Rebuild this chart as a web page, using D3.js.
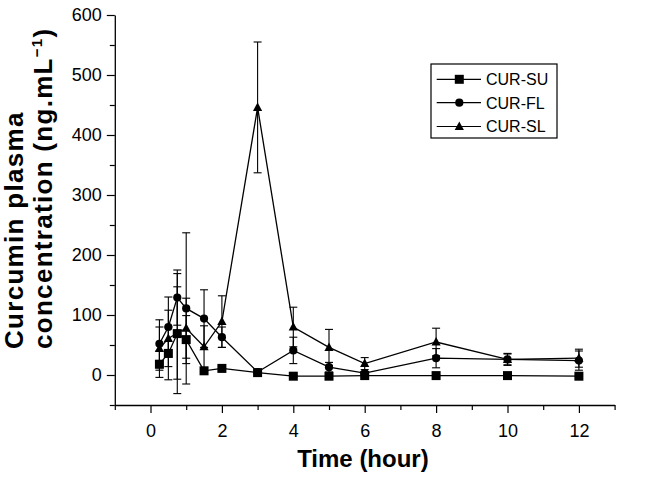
<!DOCTYPE html>
<html><head><meta charset="utf-8">
<script src="https://cdn.jsdelivr.net/npm/d3@7"></script>
<style>
html,body{margin:0;padding:0;background:#fff;}
svg{display:block;font-family:"Liberation Sans",Arial,sans-serif;}
</style></head>
<body><svg id="chart" width="655" height="480"></svg>
<script>
const time = [0.25, 0.5, 0.75, 1, 1.5, 2, 3, 4, 5, 6, 8, 10, 12];
const suValues = [18, 36, 69, 59, 7, 11, 4, -2, -2, -1, -1, -1, -2];
const suSD     = [22, 44, 100, 40, 3, 3, 2, 2, 2, 2, 2, 2, 2];
const flValues = [52, 80, 129, 111, 94, 63, 5, 41, 13, 3, 28, 26, 24];
const flSD     = [40, 50, 46, 126, 48, 17, 3, 22, 8, 2, 16, 10, 16];
const slValues = [44, 61, 70, 78, 47, 89, 446, 80, 46, 19, 55, 26, 28];
const slSD     = [36, 47, 77, 50, 35, 43, 109, 33, 30, 10, 23, 9, 15];
const seriesNames = ["CUR-SU", "CUR-FL", "CUR-SL"];
const xMajorTicks = [0, 2, 4, 6, 8, 10, 12];
const xMinorTicks = [-1, 1, 3, 5, 7, 9, 11, 13];
const yMajorTicks = [0, 100, 200, 300, 400, 500, 600];
const yMinorTicks = [-50, 50, 150, 250, 350, 450, 550];

const svg = d3.select("#chart");
const x = d3.scaleLinear().domain([-1, 13]).range([114.8, 614.6]);
const y = d3.scaleLinear().domain([-50, 600]).range([405, 15]);

const series = [
  {name: seriesNames[0], v: suValues, sd: suSD, shape: "square"},
  {name: seriesNames[1], v: flValues, sd: flSD, shape: "circle"},
  {name: seriesNames[2], v: slValues, sd: slSD, shape: "triangle"}
];

function marker(g, shape, cx, cy) {
  if (shape === "square") {
    g.append("rect").attr("x", cx - 4.5).attr("y", cy - 4.5).attr("width", 9).attr("height", 9).attr("fill", "#000");
  } else if (shape === "circle") {
    g.append("circle").attr("cx", cx).attr("cy", cy).attr("r", 4.1).attr("fill", "#000");
  } else {
    g.append("path").attr("d", `M${cx},${cy-5}L${cx+4.6},${cy+3.5}L${cx-4.6},${cy+3.5}Z`).attr("fill", "#000");
  }
}

const axisStyle = g => {
  g.selectAll("path.domain").attr("stroke", "#000").attr("stroke-width", 1.3);
  g.selectAll(".tick line").attr("stroke", "#000").attr("stroke-width", 1.2);
  g.selectAll(".tick text").attr("fill", "#000").style("font-size", "18px");
};
svg.append("g").attr("transform", "translate(0,405)")
  .call(d3.axisBottom(x).tickValues(xMajorTicks).tickSize(8).tickSizeOuter(0).tickPadding(11).tickFormat(d3.format("d")))
  .call(axisStyle);
svg.append("g").attr("transform", "translate(0,405)")
  .call(d3.axisBottom(x).tickValues(xMinorTicks).tickSize(5).tickSizeOuter(0).tickFormat(""))
  .call(axisStyle).select("path.domain").remove();
svg.append("g").attr("transform", "translate(114.8,0)")
  .call(d3.axisLeft(y).tickValues(yMajorTicks).tickSize(8).tickSizeOuter(0).tickPadding(5).tickFormat(d3.format("d")))
  .call(axisStyle);
svg.append("g").attr("transform", "translate(114.8,0)")
  .call(d3.axisLeft(y).tickValues(yMinorTicks).tickSize(5).tickSizeOuter(0).tickFormat(""))
  .call(axisStyle).select("path.domain").remove();

svg.append("text").attr("x", x(5.95)).attr("y", 467).attr("text-anchor", "middle")
  .style("font-size", "24px").style("font-weight", "bold").text("Time (hour)");
const yt = svg.append("g").attr("transform", "rotate(-90)");
yt.append("text").attr("x", -349).attr("y", 23)
  .style("font-size", "26px").style("font-weight", "bold").style("letter-spacing", "1.3px")
  .text("Curcumin plasma");
const t2 = yt.append("text").attr("x", -349).attr("y", 52)
  .style("font-size", "26px").style("font-weight", "bold").style("letter-spacing", "1.3px");
t2.append("tspan").text("concentration (ng.mL");
t2.append("tspan").attr("dy", -10).style("font-size", "15px").text("\u22121");
t2.append("tspan").attr("dy", 10).text(")");

const line = d3.line().x((d, i) => x(time[i])).y(d => y(d));
const drawOrder = [series[2], series[1], series[0]];
drawOrder.forEach(s => {
  const g = svg.append("g");
  g.append("path").attr("d", line(s.v)).attr("fill", "none").attr("stroke", "#000").attr("stroke-width", 1.3);
  s.v.forEach((v, i) => {
    const cx = x(time[i]);
    const y1 = y(v + s.sd[i]), y2 = y(v - s.sd[i]);
    g.append("line").attr("x1", cx).attr("x2", cx).attr("y1", y1).attr("y2", y2).attr("stroke", "#000").attr("stroke-width", 1.1);
    [y1, y2].forEach(yy => g.append("line").attr("x1", cx - 4).attr("x2", cx + 4).attr("y1", yy).attr("y2", yy).attr("stroke", "#000").attr("stroke-width", 1.1));
  });
  s.v.forEach((v, i) => marker(g, s.shape, x(time[i]), y(v)));
});

const lg = svg.append("g");
lg.append("rect").attr("x", 431).attr("y", 64).attr("width", 126).attr("height", 74)
  .attr("fill", "#fff").attr("stroke", "#000").attr("stroke-width", 1.2);
const rows = [79.3, 102.7, 126.5];
series.forEach((s, i) => {
  lg.append("line").attr("x1", 436.7).attr("x2", 481).attr("y1", rows[i]).attr("y2", rows[i]).attr("stroke", "#000").attr("stroke-width", 1.2);
  marker(lg, s.shape, 459.3, rows[i]);
  lg.append("text").attr("x", 486).attr("y", rows[i] + 5.8).style("font-size", "16px").text(s.name);
});
</script></body></html>
